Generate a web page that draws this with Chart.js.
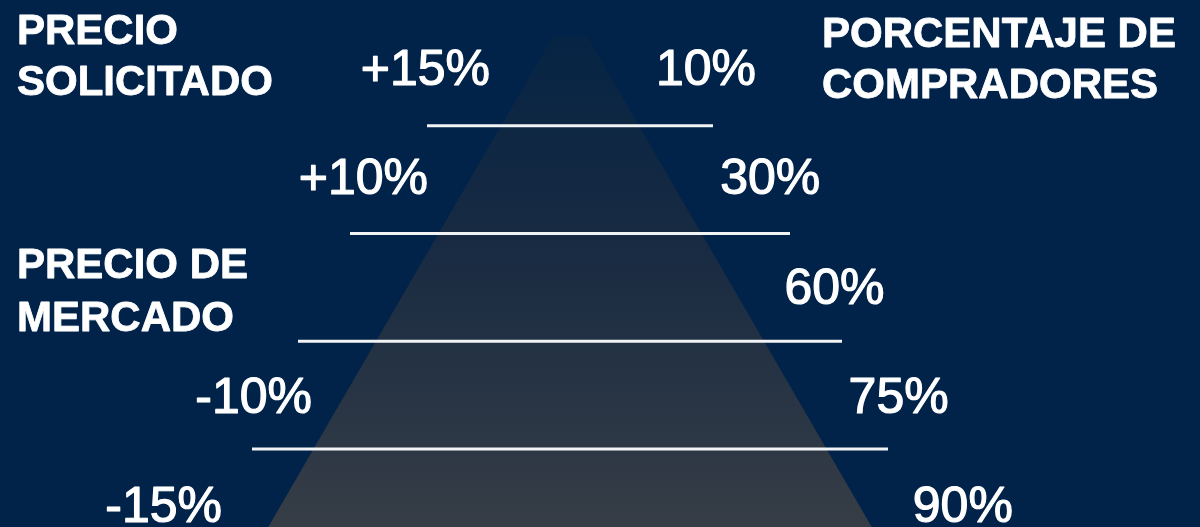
<!DOCTYPE html>
<html>
<head>
<meta charset="utf-8">
<script src="https://cdn.jsdelivr.net/npm/chart.js@4.4.1/dist/chart.umd.min.js"></script>
<style>
  html, body { margin: 0; padding: 0; background: #01234a; }
  #wrap { width: 1200px; height: 527px; position: relative; }
</style>
</head>
<body>
<div id="wrap"><canvas id="pyramidChart"></canvas></div>
<script>
'use strict';

// rows from top to bottom
let priceOffsets = [15, 10, 0, -10, -15];        // % over / under market price
let buyerShare = [10, 30, 60, 75, 90];            // % of buyers at that price
let dividerReach = [143, 220, 272, 318];          // half length of the white lines
let leftTitle = ['PRECIO', 'SOLICITADO'];
let rightTitle = ['PORCENTAJE DE', 'COMPRADORES'];
let marketTitle = ['PRECIO DE', 'MERCADO'];

let rowCount = priceOffsets.length;

function rowValue(i) {
    return rowCount - 1 - i;
}

// pyramid outline (flat little top, base below the bottom edge)
let pyramidTop = rowCount - 0.675;
let pyramidBase = -0.6;
let topHalf = 17.5;
let slopePerRow = 62.5;
let baseHalf = topHalf + slopePerRow * (pyramidTop - pyramidBase);

let pyramidPoints = [
    {x: -baseHalf, y: pyramidBase},
    {x: -topHalf, y: pyramidTop},
    {x: topHalf, y: pyramidTop},
    {x: baseHalf, y: pyramidBase},
    {x: -baseHalf, y: pyramidBase}
];

let datasets = [{
    label: 'pyramid',
    data: pyramidPoints,
    order: 10,
    showLine: true,
    borderWidth: 0,
    pointRadius: 0,
    fill: 'shape',
    backgroundColor: function (context) {
        let chart = context.chart;
        let area = chart.chartArea;
        if (!area) return 'rgba(54,61,70,0.6)';
        let yScale = chart.scales.y;
        let g = chart.ctx.createLinearGradient(0, yScale.getPixelForValue(pyramidTop), 0, area.bottom);
        g.addColorStop(0, '#062444');
        g.addColorStop(0.4, '#172a42');
        g.addColorStop(1, '#363d46');
        return g;
    }
}];

for (let i = 0; i < dividerReach.length; i++) {
    let yv = rowValue(i) - 0.5;
    datasets.push({
        label: 'divider ' + i,
        data: [{x: -dividerReach[i], y: yv}, {x: dividerReach[i], y: yv}],
        order: 1,
        showLine: true,
        borderColor: '#f2f3f4',
        borderWidth: 3,
        pointRadius: 0,
        fill: false
    });
}

function fmtOffset(v) {
    return (v > 0 ? '+' : '') + v + '%';
}

function boldish(ctx, text, x, y, w) {
    ctx.fillText(text, x, y);
    ctx.lineWidth = w;
    ctx.strokeText(text, x, y);
}

let labelPlugin = {
    id: 'pyramidLabels',
    afterDatasetsDraw(chart) {
        let ctx = chart.ctx;
        let xs = chart.scales.x;
        let ys = chart.scales.y;
        ctx.save();
        ctx.fillStyle = '#ffffff';
        ctx.strokeStyle = '#ffffff';
        ctx.lineJoin = 'round';

        ctx.font = '50px "Liberation Sans", Arial, sans-serif';
        ctx.textBaseline = 'alphabetic';
        for (let i = 0; i < rowCount; i++) {
            let yPix = ys.getPixelForValue(rowValue(i)) + 13 + i * 1.6;
            // buyers on the right
            ctx.textAlign = 'left';
            boldish(ctx, buyerShare[i] + '%', xs.getPixelForValue(86 + 64.2 * i), yPix, 1.2);
            // price offset on the left
            if (priceOffsets[i] !== 0) {
                ctx.textAlign = 'right';
                let reach = [80, 142, 204, 258, 348][i];
                boldish(ctx, fmtOffset(priceOffsets[i]), xs.getPixelForValue(-reach), yPix, 1.2);
            }
        }

        ctx.font = 'bold 42px "Liberation Sans", Arial, sans-serif';
        ctx.textAlign = 'left';
        let left = chart.chartArea.left + 17;
        boldish(ctx, leftTitle[0], left, 44, 0.8);
        boldish(ctx, leftTitle[1], left, 95, 0.8);
        boldish(ctx, rightTitle[0], chart.chartArea.left + 822, 47, 0.8);
        boldish(ctx, rightTitle[1], chart.chartArea.left + 822, 98, 0.8);

        let mid = priceOffsets.indexOf(0);
        let midPix = ys.getPixelForValue(rowValue(mid));
        boldish(ctx, marketTitle[0], left, midPix - 9, 0.8);
        boldish(ctx, marketTitle[1], left, midPix + 44, 0.8);
        ctx.restore();
    }
};

let ctx = document.getElementById('pyramidChart').getContext('2d');
let pyramidChart = new Chart(ctx, {
    type: 'line',
    data: { datasets: datasets },
    options: {
        responsive: true,
        maintainAspectRatio: false,
        animation: false,
        layout: { padding: 0 },
        plugins: {
            legend: { display: false },
            tooltip: { enabled: false }
        },
        scales: {
            x: { type: 'linear', min: -570, max: 630, display: false },
            y: { type: 'linear', min: -0.223, max: 4.668, display: false }
        }
    },
    plugins: [labelPlugin]
});
</script>
</body>
</html>
